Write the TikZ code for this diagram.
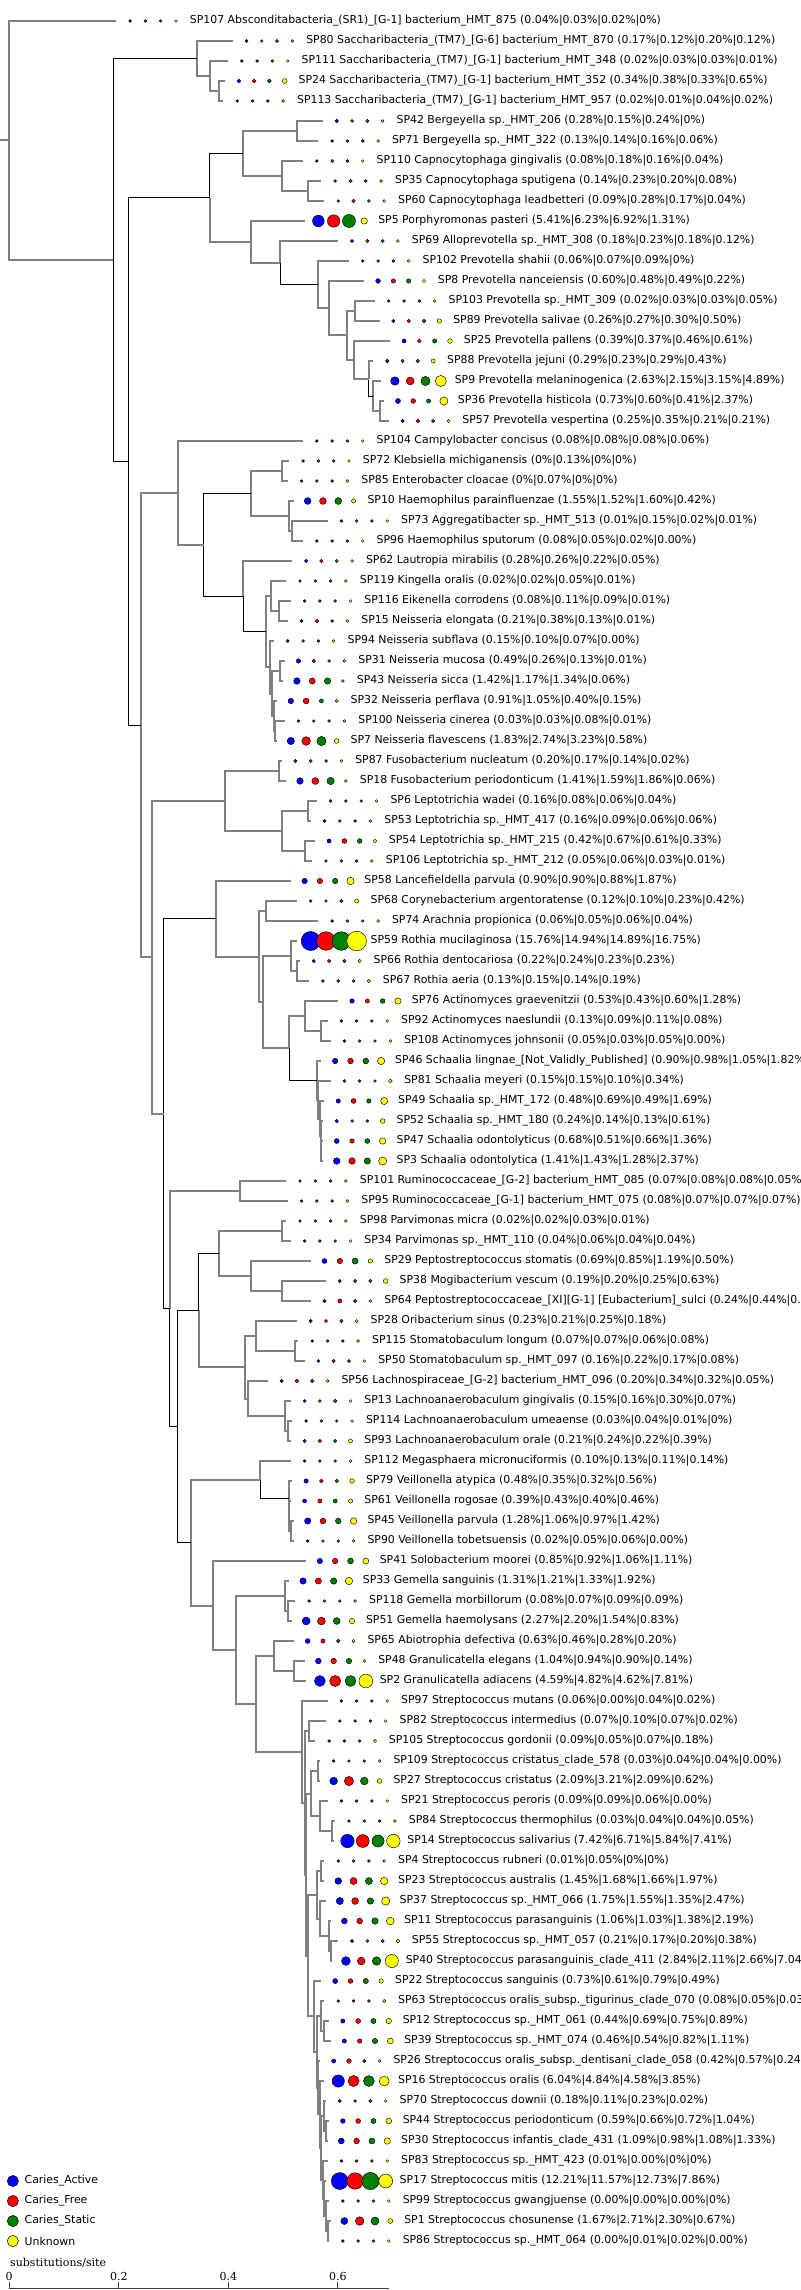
\documentclass[tikz,border=0pt]{standalone}
\usepackage{fontspec}
\usetikzlibrary{calc}
\newfontfamily\labf{DejaVu Sans}
\newfontfamily\axf{DejaVu Serif}
\definecolor{cA}{RGB}{0,0,255}
\definecolor{cF}{RGB}{255,0,0}
\definecolor{cS}{RGB}{0,128,0}
\definecolor{cU}{RGB}{255,255,0}
\definecolor{brgray}{RGB}{128,128,128}
\def\xs{1.5306}
\tikzset{
  lab/.style={anchor=west,inner sep=0pt,font=\labf\fontsize{10.9}{12}\selectfont},
  gl/.style={draw=brgray,line width=2pt,line join=miter},
  bl/.style={draw=black,line width=1pt,line join=miter},
  axl/.style={draw=black!75,line width=1pt},
  axt/.style={inner sep=0pt,font=\axf\fontsize{11}{12}\selectfont},
}
\newcommand\dotE[4]{%
  \pgfmathsetmacro\dH{max(2.8,1.2+4.5*sqrt(#3))}%
  \pgfmathsetmacro\dR{0.5*\dH}%
  \filldraw[fill=#4,draw=black,line width=0.45pt] ({#1},#2) circle [radius=\dR pt];
}
\newcommand\leafX[8]{% name, first dot x, y, 4 values, label tail
  \coordinate (#1) at ({#2-9},#3);
  \dotE{#2}{#3}{#4}{cA}
  \dotE{#2+10}{#3}{#5}{cF}
  \dotE{#2+20}{#3}{#6}{cS}
  \dotE{#2+30}{#3}{#7}{cU}
  \node[lab] (#1t) at ({#2+39},#3) {#1 #8};
}
\newcommand\leafN[8]{\leafX{#1}{#2}{#3}{#4}{#5}{#6}{#7}{#8 (#4\%|#5\%|#6\%|#7\%)}}
\newcommand\nodeN[6]{% name, x, child1, child2, style1, style2
  \path let \p1=(#3), \p2=(#4) in coordinate (#1) at ({#2*\xs*1pt},{(\y1+\y2)/2});
  \draw[#5] (#1) |- (#3);
  \draw[#6] (#1) |- (#4);
}
\begin{document}
\begin{tikzpicture}[x=1.5306pt,y=-1pt]
\useasboundingbox (0,0) rectangle (522.67,2290);
\fill[white] (0,0) rectangle (522.67,2290);
% leaves
\leafN{SP107}{85}{21}{0.04}{0.03}{0.02}{0}{Absconditabacteria\_(SR1)\_[G-1] bacterium\_HMT\_875}
\leafN{SP80}{161}{41}{0.17}{0.12}{0.20}{0.12}{Saccharibacteria\_(TM7)\_[G-6] bacterium\_HMT\_870}
\leafN{SP111}{158}{61}{0.02}{0.03}{0.03}{0.01}{Saccharibacteria\_(TM7)\_[G-1] bacterium\_HMT\_348}
\leafN{SP24}{156}{81}{0.34}{0.38}{0.33}{0.65}{Saccharibacteria\_(TM7)\_[G-1] bacterium\_HMT\_352}
\leafN{SP113}{155}{101}{0.02}{0.01}{0.04}{0.02}{Saccharibacteria\_(TM7)\_[G-1] bacterium\_HMT\_957}
\leafN{SP42}{220}{121}{0.28}{0.15}{0.24}{0}{Bergeyella sp.\_HMT\_206}
\leafN{SP71}{217}{141}{0.13}{0.14}{0.16}{0.06}{Bergeyella sp.\_HMT\_322}
\leafN{SP110}{207}{161}{0.08}{0.18}{0.16}{0.04}{Capnocytophaga gingivalis}
\leafN{SP35}{219}{181}{0.14}{0.23}{0.20}{0.08}{Capnocytophaga sputigena}
\leafN{SP60}{221}{201}{0.09}{0.28}{0.17}{0.04}{Capnocytophaga leadbetteri}
\leafN{SP5}{208}{221}{5.41}{6.23}{6.92}{1.31}{Porphyromonas pasteri}
\leafN{SP69}{230}{241}{0.18}{0.23}{0.18}{0.12}{Alloprevotella sp.\_HMT\_308}
\leafN{SP102}{237}{261}{0.06}{0.07}{0.09}{0}{Prevotella shahii}
\leafN{SP8}{247}{281}{0.60}{0.48}{0.49}{0.22}{Prevotella nanceiensis}
\leafN{SP103}{254}{301}{0.02}{0.03}{0.03}{0.05}{Prevotella sp.\_HMT\_309}
\leafN{SP89}{257}{321}{0.26}{0.27}{0.30}{0.50}{Prevotella salivae}
\leafN{SP25}{264}{341}{0.39}{0.37}{0.46}{0.61}{Prevotella pallens}
\leafN{SP88}{253}{361}{0.29}{0.23}{0.29}{0.43}{Prevotella jejuni}
\leafN{SP9}{258}{381}{2.63}{2.15}{3.15}{4.89}{Prevotella melaninogenica}
\leafN{SP36}{260}{401}{0.73}{0.60}{0.41}{2.37}{Prevotella histicola}
\leafN{SP57}{263}{421}{0.25}{0.35}{0.21}{0.21}{Prevotella vespertina}
\leafN{SP104}{207}{441}{0.08}{0.08}{0.08}{0.06}{Campylobacter concisus}
\leafN{SP72}{198}{461}{0}{0.13}{0}{0}{Klebsiella michiganensis}
\leafN{SP85}{197}{481}{0}{0.07}{0}{0}{Enterobacter cloacae}
\leafN{SP10}{201}{501}{1.55}{1.52}{1.60}{0.42}{Haemophilus parainfluenzae}
\leafN{SP73}{223}{521}{0.01}{0.15}{0.02}{0.01}{Aggregatibacter sp.\_HMT\_513}
\leafN{SP96}{207}{541}{0.08}{0.05}{0.02}{0.00}{Haemophilus sputorum}
\leafN{SP62}{200}{561}{0.28}{0.26}{0.22}{0.05}{Lautropia mirabilis}
\leafN{SP119}{196}{581}{0.02}{0.02}{0.05}{0.01}{Kingella oralis}
\leafN{SP116}{199}{601}{0.08}{0.11}{0.09}{0.01}{Eikenella corrodens}
\leafN{SP15}{197}{621}{0.21}{0.38}{0.13}{0.01}{Neisseria elongata}
\leafN{SP94}{188}{641}{0.15}{0.10}{0.07}{0.00}{Neisseria subflava}
\leafN{SP31}{195}{661}{0.49}{0.26}{0.13}{0.01}{Neisseria mucosa}
\leafN{SP43}{194}{681}{1.42}{1.17}{1.34}{0.06}{Neisseria sicca}
\leafN{SP32}{190}{701}{0.91}{1.05}{0.40}{0.15}{Neisseria perflava}
\leafN{SP100}{195}{721}{0.03}{0.03}{0.08}{0.01}{Neisseria cinerea}
\leafN{SP7}{190}{741}{1.83}{2.74}{3.23}{0.58}{Neisseria flavescens}
\leafN{SP87}{193}{761}{0.20}{0.17}{0.14}{0.02}{Fusobacterium nucleatum}
\leafN{SP18}{196}{781}{1.41}{1.59}{1.86}{0.06}{Fusobacterium periodonticum}
\leafN{SP6}{216}{801}{0.16}{0.08}{0.06}{0.04}{Leptotrichia wadei}
\leafN{SP53}{212}{821}{0.16}{0.09}{0.06}{0.06}{Leptotrichia sp.\_HMT\_417}
\leafN{SP54}{215}{841}{0.42}{0.67}{0.61}{0.33}{Leptotrichia sp.\_HMT\_215}
\leafN{SP106}{213}{861}{0.05}{0.06}{0.03}{0.01}{Leptotrichia sp.\_HMT\_212}
\leafN{SP58}{199}{881}{0.90}{0.90}{0.88}{1.87}{Lancefieldella parvula}
\leafN{SP68}{203}{901}{0.12}{0.10}{0.23}{0.42}{Corynebacterium argentoratense}
\leafN{SP74}{217}{921}{0.06}{0.05}{0.06}{0.04}{Arachnia propionica}
\leafN{SP59}{203}{941}{15.76}{14.94}{14.89}{16.75}{Rothia mucilaginosa}
\leafN{SP66}{205}{961}{0.22}{0.24}{0.23}{0.23}{Rothia dentocariosa}
\leafN{SP67}{211}{981}{0.13}{0.15}{0.14}{0.19}{Rothia aeria}
\leafN{SP76}{230}{1001}{0.53}{0.43}{0.60}{1.28}{Actinomyces graevenitzii}
\leafN{SP92}{223}{1021}{0.13}{0.09}{0.11}{0.08}{Actinomyces naeslundii}
\leafN{SP108}{225}{1041}{0.05}{0.03}{0.05}{0.00}{Actinomyces johnsonii}
\leafN{SP46}{219}{1061}{0.90}{0.98}{1.05}{1.82}{Schaalia lingnae\_[Not\_Validly\_Published]}
\leafN{SP81}{225}{1081}{0.15}{0.15}{0.10}{0.34}{Schaalia meyeri}
\leafN{SP49}{221}{1101}{0.48}{0.69}{0.49}{1.69}{Schaalia sp.\_HMT\_172}
\leafN{SP52}{220}{1121}{0.24}{0.14}{0.13}{0.61}{Schaalia sp.\_HMT\_180}
\leafN{SP47}{220}{1141}{0.68}{0.51}{0.66}{1.36}{Schaalia odontolyticus}
\leafN{SP3}{220}{1161}{1.41}{1.43}{1.28}{2.37}{Schaalia odontolytica}
\leafN{SP101}{196}{1181}{0.07}{0.08}{0.08}{0.05}{Ruminococcaceae\_[G-2] bacterium\_HMT\_085}
\leafN{SP95}{197}{1201}{0.08}{0.07}{0.07}{0.07}{Ruminococcaceae\_[G-1] bacterium\_HMT\_075}
\leafN{SP98}{196}{1221}{0.02}{0.02}{0.03}{0.01}{Parvimonas micra}
\leafN{SP34}{199}{1241}{0.04}{0.06}{0.04}{0.04}{Parvimonas sp.\_HMT\_110}
\leafN{SP29}{212}{1261}{0.69}{0.85}{1.19}{0.50}{Peptostreptococcus stomatis}
\leafN{SP38}{222}{1281}{0.19}{0.20}{0.25}{0.63}{Mogibacterium vescum}
\leafX{SP64}{212}{1301}{0.24}{0.44}{0.2}{0.1}{Peptostreptococcaceae\_[XI][G-1] [Eubacterium]\_sulci (0.24\%|0.44\%|0.}
\leafN{SP28}{203}{1321}{0.23}{0.21}{0.25}{0.18}{Oribacterium sinus}
\leafN{SP115}{204}{1341}{0.07}{0.07}{0.06}{0.08}{Stomatobaculum longum}
\leafN{SP50}{208}{1361}{0.16}{0.22}{0.17}{0.08}{Stomatobaculum sp.\_HMT\_097}
\leafN{SP56}{184}{1381}{0.20}{0.34}{0.32}{0.05}{Lachnospiraceae\_[G-2] bacterium\_HMT\_096}
\leafN{SP13}{199}{1401}{0.15}{0.16}{0.30}{0.07}{Lachnoanaerobaculum gingivalis}
\leafN{SP114}{200}{1421}{0.03}{0.04}{0.01}{0}{Lachnoanaerobaculum umeaense}
\leafN{SP93}{199}{1441}{0.21}{0.24}{0.22}{0.39}{Lachnoanaerobaculum orale}
\leafN{SP112}{199}{1461}{0.10}{0.13}{0.11}{0.14}{Megasphaera micronuciformis}
\leafN{SP79}{200}{1481}{0.48}{0.35}{0.32}{0.56}{Veillonella atypica}
\leafN{SP61}{199}{1501}{0.39}{0.43}{0.40}{0.46}{Veillonella rogosae}
\leafN{SP45}{201}{1521}{1.28}{1.06}{0.97}{1.42}{Veillonella parvula}
\leafN{SP90}{201}{1541}{0.02}{0.05}{0.06}{0.00}{Veillonella tobetsuensis}
\leafN{SP41}{209}{1561}{0.85}{0.92}{1.06}{1.11}{Solobacterium moorei}
\leafN{SP33}{198}{1581}{1.31}{1.21}{1.33}{1.92}{Gemella sanguinis}
\leafN{SP118}{202}{1601}{0.08}{0.07}{0.09}{0.09}{Gemella morbillorum}
\leafN{SP51}{200}{1621}{2.27}{2.20}{1.54}{0.83}{Gemella haemolysans}
\leafN{SP65}{201}{1641}{0.63}{0.46}{0.28}{0.20}{Abiotrophia defectiva}
\leafN{SP48}{208}{1661}{1.04}{0.94}{0.90}{0.14}{Granulicatella elegans}
\leafN{SP2}{209}{1681}{4.59}{4.82}{4.62}{7.81}{Granulicatella adiacens}
\leafN{SP97}{223}{1701}{0.06}{0.00}{0.04}{0.02}{Streptococcus mutans}
\leafN{SP82}{222}{1721}{0.07}{0.10}{0.07}{0.02}{Streptococcus intermedius}
\leafN{SP105}{215}{1741}{0.09}{0.05}{0.07}{0.18}{Streptococcus gordonii}
\leafN{SP109}{218}{1761}{0.03}{0.04}{0.04}{0.00}{Streptococcus cristatus\_clade\_578}
\leafN{SP27}{218}{1781}{2.09}{3.21}{2.09}{0.62}{Streptococcus cristatus}
\leafN{SP21}{223}{1801}{0.09}{0.09}{0.06}{0.00}{Streptococcus peroris}
\leafN{SP84}{228}{1821}{0.03}{0.04}{0.04}{0.05}{Streptococcus thermophilus}
\leafN{SP14}{227}{1841}{7.42}{6.71}{5.84}{7.41}{Streptococcus salivarius}
\leafN{SP4}{221}{1861}{0.01}{0.05}{0}{0}{Streptococcus rubneri}
\leafN{SP23}{221}{1881}{1.45}{1.68}{1.66}{1.97}{Streptococcus australis}
\leafN{SP37}{222}{1901}{1.75}{1.55}{1.35}{2.47}{Streptococcus sp.\_HMT\_066}
\leafN{SP11}{225}{1921}{1.06}{1.03}{1.38}{2.19}{Streptococcus parasanguinis}
\leafN{SP55}{230}{1941}{0.21}{0.17}{0.20}{0.38}{Streptococcus sp.\_HMT\_057}
\leafN{SP40}{226}{1961}{2.84}{2.11}{2.66}{7.04}{Streptococcus parasanguinis\_clade\_411}
\leafN{SP22}{219}{1981}{0.73}{0.61}{0.79}{0.49}{Streptococcus sanguinis}
\leafX{SP63}{221}{2001}{0.08}{0.05}{0.03}{0.2}{Streptococcus oralis\_subsp.\_tigurinus\_clade\_070 (0.08\%|0.05\%|0.03}
\leafN{SP12}{224}{2021}{0.44}{0.69}{0.75}{0.89}{Streptococcus sp.\_HMT\_061}
\leafN{SP39}{225}{2041}{0.46}{0.54}{0.82}{1.11}{Streptococcus sp.\_HMT\_074}
\leafX{SP26}{218}{2061}{0.42}{0.57}{0.24}{0.1}{Streptococcus oralis\_subsp.\_dentisani\_clade\_058 (0.42\%|0.57\%|0.24}
\leafN{SP16}{221}{2081}{6.04}{4.84}{4.58}{3.85}{Streptococcus oralis}
\leafN{SP70}{222}{2101}{0.18}{0.11}{0.23}{0.02}{Streptococcus downii}
\leafN{SP44}{224}{2121}{0.59}{0.66}{0.72}{1.04}{Streptococcus periodonticum}
\leafN{SP30}{223}{2141}{1.09}{0.98}{1.08}{1.33}{Streptococcus infantis\_clade\_431}
\leafN{SP83}{223}{2161}{0.01}{0.00}{0}{0}{Streptococcus sp.\_HMT\_423}
\leafN{SP17}{222}{2181}{12.21}{11.57}{12.73}{7.86}{Streptococcus mitis}
\leafN{SP99}{224}{2201}{0.00}{0.00}{0.00}{0}{Streptococcus gwangjuense}
\leafN{SP1}{225}{2221}{1.67}{2.71}{2.30}{0.67}{Streptococcus chosunense}
\leafN{SP86}{224}{2241}{0.00}{0.01}{0.02}{0.00}{Streptococcus sp.\_HMT\_064}
% tree: TM7
\nodeN{T24}{143}{SP24}{SP113}{gl}{gl}
\nodeN{T111}{137}{SP111}{T24}{gl}{gl}
\nodeN{TM7}{129}{SP80}{T111}{gl}{gl}
% Bacteroidetes
\nodeN{Berg}{194}{SP42}{SP71}{gl}{gl}
\nodeN{Cap2}{201}{SP35}{SP60}{gl}{gl}
\nodeN{Cap}{184}{SP110}{Cap2}{gl}{gl}
\nodeN{BC}{159}{Berg}{Cap}{gl}{gl}
\nodeN{P6}{232}{SP103}{SP89}{gl}{gl}
\nodeN{Q}{248}{SP36}{SP57}{gl}{gl}
\nodeN{P9}{244}{SP9}{Q}{gl}{gl}
\nodeN{P8}{241}{SP88}{P9}{gl}{bl}
\nodeN{P7}{231}{SP25}{P8}{gl}{gl}
\nodeN{P5}{227}{P6}{P7}{gl}{gl}
\nodeN{P4}{215}{SP8}{P5}{gl}{gl}
\nodeN{P3}{208}{SP102}{P4}{gl}{gl}
\nodeN{P2}{183}{SP69}{P3}{gl}{bl}
\nodeN{P1}{164}{SP5}{P2}{gl}{gl}
\nodeN{B}{137}{BC}{P1}{bl}{gl}
% Proteobacteria
\nodeN{Kleb}{184}{SP72}{SP85}{gl}{gl}
\nodeN{H2}{191}{SP73}{SP96}{gl}{gl}
\nodeN{Haem}{189}{SP10}{H2}{gl}{gl}
\nodeN{Ent}{164}{Kleb}{Haem}{gl}{gl}
\nodeN{EK}{182}{SP116}{SP15}{gl}{gl}
\nodeN{Kin}{177}{SP119}{EK}{gl}{gl}
\nodeN{SN1}{183}{SP31}{SP43}{gl}{gl}
\nodeN{SN3}{179.5}{SP100}{SP7}{gl}{gl}
\nodeN{N3}{178.7}{SP32}{SN3}{gl}{gl}
\nodeN{N2}{177.8}{SN1}{N3}{gl}{gl}
\nodeN{Neis}{176.5}{SP94}{N2}{gl}{gl}
\nodeN{Ne2}{174}{Kin}{Neis}{gl}{gl}
\nodeN{Ne}{159}{SP62}{Ne2}{gl}{bl}
\nodeN{Pr2}{133}{Ent}{Ne}{bl}{bl}
\nodeN{Pr}{116}{SP104}{Pr2}{gl}{gl}
% Fusobacteria
\nodeN{Fu1}{182}{SP87}{SP18}{gl}{gl}
\nodeN{Le1}{201}{SP6}{SP53}{gl}{gl}
\nodeN{Le2}{199}{SP54}{SP106}{gl}{gl}
\nodeN{Lep}{184}{Le1}{Le2}{gl}{gl}
\nodeN{Fuso}{147}{Fu1}{Lep}{gl}{gl}
% Actinobacteria
\nodeN{Cor}{174}{SP68}{SP74}{gl}{gl}
\nodeN{Ro2}{194}{SP66}{SP67}{gl}{gl}
\nodeN{Rot}{190}{SP59}{Ro2}{gl}{gl}
\nodeN{Am2}{210}{SP92}{SP108}{gl}{gl}
\nodeN{Am}{199}{SP76}{Am2}{gl}{gl}
\nodeN{S5}{209.8}{SP47}{SP3}{gl}{gl}
\nodeN{S4}{209.5}{SP52}{S5}{gl}{gl}
\nodeN{S3}{209}{SP49}{S4}{gl}{gl}
\nodeN{S2}{208}{SP81}{S3}{gl}{gl}
\nodeN{Sch}{207}{SP46}{S2}{gl}{gl}
\nodeN{Ac2}{189}{Am}{Sch}{gl}{bl}
\nodeN{Act3}{172}{Rot}{Ac2}{gl}{gl}
\nodeN{Act2}{169}{Cor}{Act3}{gl}{gl}
\nodeN{Act}{141}{SP58}{Act2}{gl}{gl}
% Firmicutes and others
\nodeN{Rum}{157}{SP101}{SP95}{gl}{gl}
\nodeN{Parv}{184}{SP98}{SP34}{gl}{gl}
\nodeN{Mo}{184}{SP38}{SP64}{gl}{gl}
\nodeN{Pep2}{164}{SP29}{Mo}{gl}{gl}
\nodeN{Pep}{143}{Parv}{Pep2}{gl}{gl}
\nodeN{Sto}{193}{SP115}{SP50}{gl}{gl}
\nodeN{Ori}{167}{SP28}{Sto}{gl}{gl}
\nodeN{La4}{188}{SP114}{SP93}{gl}{gl}
\nodeN{La3}{186}{SP13}{La4}{gl}{gl}
\nodeN{La2}{162}{SP56}{La3}{gl}{gl}
\nodeN{La}{160}{Ori}{La2}{gl}{gl}
\nodeN{Clo}{130}{Pep}{La}{bl}{gl}
\nodeN{V4}{190}{SP45}{SP90}{gl}{gl}
\nodeN{V3}{189}{SP61}{V4}{gl}{gl}
\nodeN{V2}{188.5}{SP79}{V3}{gl}{gl}
\nodeN{Ve}{170}{SP112}{V2}{gl}{bl}
\nodeN{Ge2}{188}{SP118}{SP51}{gl}{gl}
\nodeN{Gem}{186}{SP33}{Ge2}{gl}{gl}
\nodeN{Gr}{192}{SP48}{SP2}{gl}{gl}
\nodeN{Lac}{179}{SP65}{Gr}{gl}{gl}
% Streptococcus
\nodeN{Sa}{202}{SP82}{SP105}{gl}{gl}
\nodeN{C1}{208}{SP109}{SP27}{gl}{gl}
\nodeN{C3}{217}{SP84}{SP14}{gl}{gl}
\nodeN{C2}{209}{SP21}{C3}{gl}{gl}
\nodeN{Sc}{203}{C1}{C2}{gl}{gl}
\nodeN{M1}{210}{SP4}{SP23}{gl}{gl}
\nodeN{M4}{216}{SP55}{SP40}{gl}{gl}
\nodeN{M3}{215}{SP11}{M4}{gl}{gl}
\nodeN{M2}{209}{SP37}{M3}{gl}{gl}
\nodeN{Se}{207}{M1}{M2}{gl}{gl}
\nodeN{O1}{212}{SP12}{SP39}{gl}{gl}
\nodeN{O2}{210}{SP63}{O1}{gl}{gl}
\nodeN{T1}{213}{SP44}{SP30}{gl}{gl}
\nodeN{T2}{212}{SP70}{T1}{gl}{gl}
\nodeN{T3}{214}{SP1}{SP86}{gl}{gl}
\nodeN{T4}{213}{SP99}{T3}{gl}{gl}
\nodeN{T5}{212}{SP17}{T4}{gl}{gl}
\nodeN{T6}{211}{SP83}{T5}{gl}{gl}
\nodeN{T7}{210}{T2}{T6}{gl}{gl}
\nodeN{T8}{209}{SP16}{T7}{gl}{gl}
\nodeN{T9}{208}{SP26}{T8}{gl}{gl}
\nodeN{Og}{207}{O2}{T9}{gl}{gl}
\nodeN{Sf}{205}{SP22}{Og}{gl}{gl}
\nodeN{Sd}{201}{Se}{Sf}{gl}{gl}
\nodeN{Sb}{200}{Sc}{Sd}{gl}{gl}
\nodeN{St2}{199}{Sa}{Sb}{gl}{gl}
\nodeN{Strep}{197}{SP97}{St2}{gl}{gl}
\nodeN{L}{167}{Lac}{Strep}{gl}{gl}
\nodeN{Kk}{154}{Gem}{L}{gl}{gl}
\nodeN{J}{139}{SP41}{Kk}{gl}{gl}
\nodeN{I}{125}{Ve}{J}{gl}{gl}
\nodeN{H}{116}{Clo}{I}{bl}{bl}
\nodeN{G}{111}{Rum}{H}{gl}{bl}
\nodeN{F}{107}{Act}{G}{bl}{bl}
\nodeN{E}{99}{Fuso}{F}{gl}{gl}
\nodeN{D}{92}{Pr}{E}{gl}{gl}
\nodeN{C}{84}{B}{D}{bl}{bl}
\nodeN{A}{74}{TM7}{C}{bl}{bl}
\nodeN{root}{6}{SP107}{A}{gl}{gl}
\path (root) ++(-6,0) coordinate (rootstub);
\draw[gl] (rootstub) -- (root);
% legend
\filldraw[fill=cA,draw=black,line width=0.5pt] (8.4,2181) circle [radius=5.6pt];
\node[lab] (lgA) at (16,2181) {Caries\_Active};
\filldraw[fill=cF,draw=black,line width=0.5pt] (8.4,2201) circle [radius=5.6pt];
\node[lab] (lgF) at (16,2201) {Caries\_Free};
\filldraw[fill=cS,draw=black,line width=0.5pt] (8.4,2221) circle [radius=5.6pt];
\node[lab] (lgS) at (16,2221) {Caries\_Static};
\filldraw[fill=cU,draw=black,line width=0.5pt] (8.4,2241) circle [radius=5.6pt];
\node[lab] (lgU) at (16,2241) {Unknown};
% axis
\node[axt,anchor=west] (axtitle) at (6.5,2263) {substitutions/site};
\coordinate (ax0) at (6,2288.5);
\coordinate (ax1) at (254,2288.5);
\draw[axl] (ax0) -- (ax1);
\foreach \i/\lbl in {0/0,1/0.2,2/0.4,3/0.6}{
  \coordinate (tk\i) at ({6+71.6*\i},2288.5);
  \draw[axl] (tk\i) -- ++(0,-7);
  \node[axt] (tl\i) at ({6+71.6*\i},2276.5) {\lbl};
}
\end{tikzpicture}
\end{document}
